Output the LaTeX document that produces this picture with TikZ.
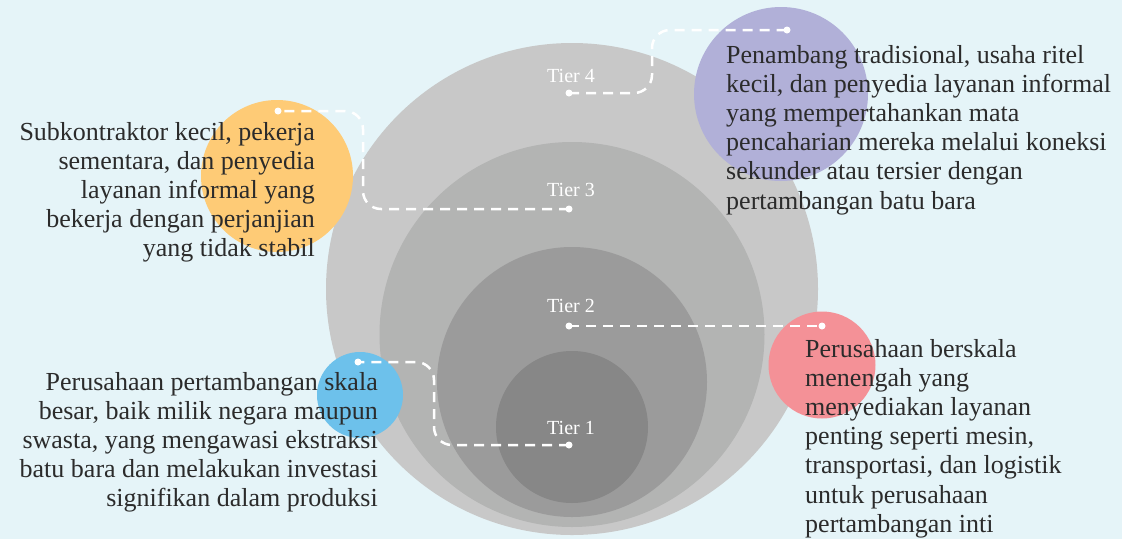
\documentclass[tikz,border=0pt]{standalone}
\usepackage{fontspec}
\setmainfont{Liberation Serif}

\definecolor{bgcol}{HTML}{E5F4F8}
\definecolor{tierfour}{HTML}{C8C8C8}
\definecolor{tierthree}{HTML}{B3B4B3}
\definecolor{tiertwo}{HTML}{9B9B9B}
\definecolor{tierone}{HTML}{878787}
\definecolor{orangebub}{HTML}{FECB76}
\definecolor{purplebub}{HTML}{B1B0D8}
\definecolor{pinkbub}{HTML}{F49197}
\definecolor{bluebub}{HTML}{6DC1EB}
\definecolor{inkcol}{HTML}{2B2B2B}

\begin{document}
\begin{tikzpicture}[x=1pt,y=-1pt,
    disc/.style={circle,inner sep=0pt,minimum size=#1},
    tierlabel/.style={text=white,anchor=base,inner sep=0pt,font=\fontsize{20}{24}\selectfont},
    desc/.style={text=inkcol,inner sep=0pt,font=\fontsize{26}{29.2}\selectfont},
    dot/.style={circle,fill=white,inner sep=0pt,minimum size=7pt},
    link/.style={draw=white,line width=2.5pt,dash pattern=on 10pt off 7pt,rounded corners=18pt}]
		% background
		\fill[bgcol] (0,0) rectangle (1122,539);
		\useasboundingbox (0,0) rectangle (1122,539);
		
		% Tiers
		\node[disc=492pt,fill=tierfour] (tier4) at (572,289) {};
		\node[disc=385pt,fill=tierthree] (tier3) at (572,334.5) {};
		\node[disc=270pt,fill=tiertwo] (tier2) at (572,382) {};
		\node[disc=152pt,fill=tierone] (tier1) at (572,427) {};
		
		% Bubbles
		\node[disc=152pt,fill=orangebub] (orange) at (277,176) {};
		\node[disc=174pt,fill=purplebub] (purple) at (781,94) {};
		\node[disc=107pt,fill=pinkbub] (pink) at (822,365) {};
		\node[disc=86pt,fill=bluebub] (blue) at (360,395) {};
		
		\node[tierlabel] (lab4) at (571,82) {Tier 4};
		\node[tierlabel] (lab3) at (571,196) {Tier 3};
		\node[tierlabel] (lab2) at (571,312) {Tier 2};
		\node[tierlabel] (lab1) at (571,434) {Tier 1};
		
		% Descriptions
		\node[desc,anchor=base east] (txt3) at (315,140) {\begin{tabular}[t]{@{}r@{}}
			Subkontraktor kecil, pekerja\\
			sementara, dan penyedia\\
			layanan informal yang\\
			bekerja dengan perjanjian\\
			yang tidak stabil\end{tabular}};
		\node[desc,anchor=base west] (txt4) at (726,63) {\begin{tabular}[t]{@{}l@{}}
			Penambang tradisional, usaha ritel\\
			kecil, dan penyedia layanan informal\\
			yang mempertahankan mata\\
			pencaharian mereka melalui koneksi\\
			sekunder atau tersier dengan\\
			pertambangan batu bara\end{tabular}};
		\node[desc,anchor=base west] (txt2) at (805,357) {\begin{tabular}[t]{@{}l@{}}
			Perusahaan berskala\\
			menengah yang\\
			menyediakan layanan\\
			penting seperti mesin,\\
			transportasi, dan logistik\\
			untuk perusahaan\\
			pertambangan inti\end{tabular}};
		\node[desc,anchor=base east] (txt1) at (378,390) {\begin{tabular}[t]{@{}r@{}}
			Perusahaan pertambangan skala\\
			besar, baik milik negara maupun\\
			swasta, yang mengawasi ekstraksi\\
			batu bara dan melakukan investasi\\
			signifikan dalam produksi\end{tabular}};
		
		% Connectors
		\node[dot] (d4a) at (569,93) {};
		\node[dot] (d4b) at (787,30) {};
		\node[dot] (d3a) at (569,209) {};
		\node[dot] (d3b) at (278,111) {};
		\node[dot] (d2a) at (569,326) {};
		\node[dot] (d2b) at (822,326) {};
		\node[dot] (d1a) at (569,445) {};
		\node[dot] (d1b) at (358,362) {};
		
		\draw[link] (d4a.center) -- ++(83,0) |- (d4b.center);
		\draw[link] (d3a.center) -- ++(-206,0) |- (d3b.center);
		\draw[link] (d2a.center) -- (d2b.center);
		\draw[link] (d1a.center) -- ++(-135,0) |- (d1b.center);
		
		\end{tikzpicture}
\end{document}
